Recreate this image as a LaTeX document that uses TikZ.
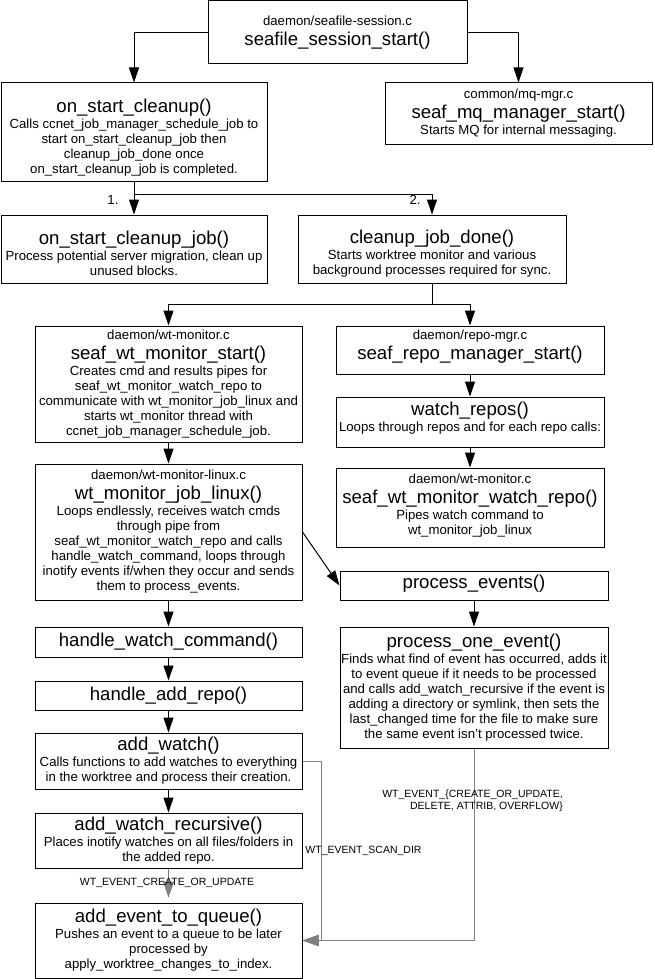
\documentclass[tikz,border=0pt]{standalone}
\usepackage{fontspec}
\setmainfont{Liberation Sans}
\usetikzlibrary{arrows.meta}

\definecolor{linegrey}{RGB}{128,128,128}

% font sizes used in the chart
\newcommand\dbody{\fontsize{13.2}{15}\selectfont\lineskiplimit=-50pt\relax}
\newcommand\dtitle{\fontsize{18.6}{15}\selectfont}
\newcommand\dlabel{\fontsize{10.5}{12}\selectfont\lineskiplimit=-50pt\relax}
% invisible struts that nudge a text block down (top) or up (bottom)
\newcommand\padtop[1]{\rule{0pt}{#1}}
\newcommand\padbot[1]{\rule[-#1]{0pt}{#1}}

\tikzset{
  box/.style={draw, line width=1pt, rectangle, inner sep=0pt, align=center, font=\dbody},
  arr/.style={line width=1pt, -{Triangle[length=15pt,width=10pt]}},
  garr/.style={line width=1pt, draw=linegrey, -{Triangle[length=16pt,width=11pt]}, color=linegrey},
  edgelbl/.style={font=\dlabel, inner sep=0pt, text=black},
  numlbl/.style={font=\dbody, inner sep=0pt}
}

\begin{document}
\begin{tikzpicture}[x=1pt,y=-1pt]
\useasboundingbox[fill=white] (0,0) rectangle (654,979);

% ---- top level ----
\node[box, minimum width=259pt, minimum height=63pt] (sess) at (337.5,32.5)
  {daemon/seafile-session.c\\[5pt]{\dtitle seafile\_session\_start()}};

\node[box, minimum width=266pt, minimum height=98pt] (osc) at (134,132)
  {\padtop{24pt}{\dtitle on\_start\_cleanup()}\\[1pt]
   Calls ccnet\_job\_manager\_schedule\_job to\\
   start on\_start\_cleanup\_job then\\
   cleanup\_job\_done once\\
   on\_start\_cleanup\_job is completed.};

\node[box, minimum width=267pt, minimum height=61pt] (mq) at (518.5,113.5)
  {common/mq-mgr.c\\[5pt]{\dtitle seaf\_mq\_manager\_start()}\\[1pt]
   Starts MQ for internal messaging.};

% ---- cleanup jobs ----
\node[box, minimum width=266pt, minimum height=68pt] (oscj) at (134,249)
  {\padtop{22pt}{\dtitle on\_start\_cleanup\_job()}\\[1pt]
   Process potential server migration, clean up\\
   unused blocks.};

\node[box, minimum width=268pt, minimum height=68pt] (cjd) at (432,249)
  {\padtop{22pt}{\dtitle cleanup\_job\_done()}\\[1pt]
   Starts worktree monitor and various\\
   background processes required for sync.};

% ---- worktree monitor column ----
\node[box, minimum width=267pt, minimum height=116pt] (wms) at (168.5,384)
  {daemon/wt-monitor.c\\[5pt]{\dtitle seaf\_wt\_monitor\_start()}\\[1pt]
   Creates cmd and results pipes for\\
   seaf\_wt\_monitor\_watch\_repo to\\
   communicate with wt\_monitor\_job\_linux and\\
   starts wt\_monitor thread with\\
   ccnet\_job\_manager\_schedule\_job.};

\node[box, minimum width=267pt, minimum height=136pt] (wmjl) at (168.5,532)
  {daemon/wt-monitor-linux.c\\[5pt]{\dtitle wt\_monitor\_job\_linux()}\\[1pt]
   Loops endlessly, receives watch cmds\\
   through pipe from\\
   seaf\_wt\_monitor\_watch\_repo and calls\\
   handle\_watch\_command, loops through\\
   inotify events if/when they occur and sends\\
   them to process\_events.};

\node[box, minimum width=267pt, minimum height=30pt] (hwc) at (168.5,642)
  {{\dtitle handle\_watch\_command()}};

\node[box, minimum width=267pt, minimum height=29pt] (har) at (168.5,695.5)
  {{\dtitle handle\_add\_repo()}};

\node[box, minimum width=267pt, minimum height=56pt] (aw) at (168.5,761)
  {{\dtitle add\_watch()}\\[1pt]
   Calls functions to add watches to everything\\
   in the worktree and process their creation.};

\node[box, minimum width=267pt, minimum height=55pt] (awr) at (168.5,840.5)
  {{\dtitle add\_watch\_recursive()}\\[1pt]
   Places inotify watches on all files/folders in\\
   the added repo.};

\node[box, minimum width=267pt, minimum height=75pt] (aetq) at (168.5,940.5)
  {{\dtitle add\_event\_to\_queue()}\\[1pt]
   Pushes an event to a queue to be later\\
   processed by\\
   apply\_worktree\_changes\_to\_index.};

% ---- repo manager column ----
\node[box, minimum width=268pt, minimum height=48pt] (rms) at (470,350)
  {daemon/repo-mgr.c\\[5pt]{\dtitle seaf\_repo\_manager\_start()}\padbot{10pt}};

\node[box, minimum width=268pt, minimum height=50pt] (wr) at (470,422)
  {{\dtitle watch\_repos()}\\[1pt]
   Loops through repos and for each repo calls:\padbot{11pt}};

\node[box, minimum width=268pt, minimum height=79pt] (wmwr) at (470,507.5)
  {daemon/wt-monitor.c\\[5pt]{\dtitle seaf\_wt\_monitor\_watch\_repo()}\\[1pt]
   Pipes watch command to\\
   wt\_monitor\_job\_linux\padbot{7pt}};

\node[box, minimum width=268pt, minimum height=29pt] (pe) at (474,585.5)
  {{\dtitle process\_events()}\padbot{8pt}};

\node[box, minimum width=268pt, minimum height=121pt] (poe) at (474,687.5)
  {{\dtitle process\_one\_event()}\\[1pt]
   Finds what find of event has occurred, adds it\\
   to event queue if it needs to be processed\\
   and calls add\_watch\_recursive if the event is\\
   adding a directory or symlink, then sets the\\
   last\_changed time for the file to make sure\\
   the same event isn't processed twice.};

% ---- connectors ----
\draw[arr] (sess.west) -| (osc.north);
\draw[arr] (sess.east) -| (mq.north);

\coordinate (forkA) at (134,194);
\draw[arr] (osc.south) -- (oscj.north);
\draw[arr] (osc.south) -- (forkA) -| (cjd.north);
\node[numlbl] (n1) at (113,200) {1.};
\node[numlbl] (n2) at (415,200) {2.};

\coordinate (forkB) at (432,304);
\draw[arr] (cjd.south) -- (forkB) -| (wms.north);
\draw[arr] (cjd.south) -- (forkB) -| (rms.north);

\draw[arr] (wms.south) -- (wmjl.north);
\draw[arr] (rms.south) -- (wr.north);
\draw[arr] (wr.south) -- (wmwr.north);
\draw[arr] (wmjl.east) -- (pe.west);
\draw[arr] (wmjl.south) -- (hwc.north);
\draw[arr] (hwc.south) -- (har.north);
\draw[arr] (har.south) -- (aw.north);
\draw[arr] (aw.south) -- (awr.north);
\draw[arr] (pe.south) -- (poe.north);

% event paths into the queue
\draw[garr, shorten >=5pt] (awr.south) -- (aetq.north);
\coordinate (scanbend) at (321,761);
\draw[garr] (aw.east) -- (scanbend) |- (aetq.east);
\draw[garr] (poe.south) |- (aetq.east);

\node[edgelbl] (lcreate) at (167,883) {WT\_EVENT\_CREATE\_OR\_UPDATE};
\node[edgelbl] (lscan) at (363.5,851) {WT\_EVENT\_SCAN\_DIR};
\node[edgelbl, align=right, anchor=east] (lall) at (563,801)
  {WT\_EVENT\_\{CREATE\_OR\_UPDATE,\\DELETE, ATTRIB, OVERFLOW\}};
\end{tikzpicture}
\end{document}
